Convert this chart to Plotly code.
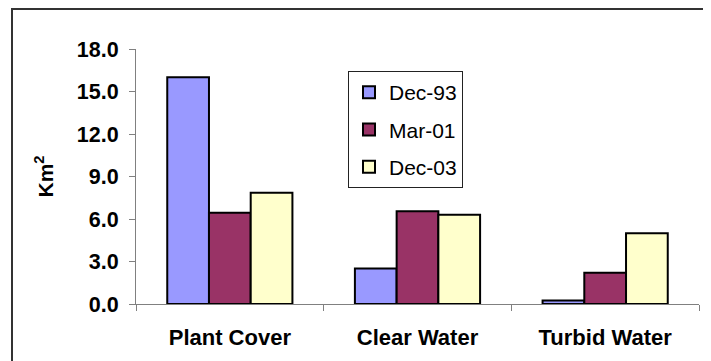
import plotly.graph_objects as go

categories = ["Plant Cover", "Clear Water", "Turbid Water"]
series_names = ["Dec-93", "Mar-01", "Dec-03"]
dec93 = [16.0, 2.5, 0.25]
mar01 = [6.45, 6.55, 2.2]
dec03 = [7.85, 6.3, 5.0]
colors = ["#9999FF", "#993366", "#FFFFCC"]
y_ticks = [0, 3, 6, 9, 12, 15, 18]

FONT = "Liberation Sans, Arial, sans-serif"

# page body has an 8px default margin: the figure is sized to fill the rest of the window
W, H = 703, 353
ML, MR, MT, MB = 128, 12, 41, 57
PW, PH = W - ML - MR, H - MT - MB

fig = go.Figure()
for i, (name, vals) in enumerate(zip(series_names, [dec93, mar01, dec03])):
    fig.add_trace(go.Bar(
        x=categories, y=vals, name=name, legendgroup=name,
        marker=dict(color=colors[i], line=dict(color="#000000", width=2)),
    ))

fig.update_layout(
    width=W, height=H,
    margin=dict(l=ML, r=MR, t=MT, b=MB, autoexpand=False),
    paper_bgcolor="white", plot_bgcolor="white",
    barmode="group", bargap=0.333, bargroupgap=0,
    font=dict(family=FONT, color="black"),
    showlegend=True,
    legend=dict(
        x=(348 - 8 - ML) / PW, y=1 - (71 - 8 - MT) / PH, xanchor="left", yanchor="top",
        bgcolor="white", bordercolor="#222222", borderwidth=1,
        font=dict(size=21, family=FONT, color="black"),
        tracegroupgap=7, itemwidth=30,
    ),
    xaxis=dict(
        showline=True, linecolor="#808080", linewidth=1,
        ticks="outside", ticklen=6, tickcolor="#808080", tickson="boundaries",
        tickfont=dict(size=22, family=FONT, weight="bold", color="black"),
        ticklabelstandoff=14,
        showgrid=False, zeroline=False,
    ),
    yaxis=dict(
        range=[0, 18], tickvals=y_ticks, tickformat=".1f",
        showline=True, linecolor="#808080", linewidth=1,
        ticks="outside", ticklen=6, tickcolor="#808080",
        tickfont=dict(size=21.5, family=FONT, weight="bold", color="black"),
        ticklabelstandoff=6,
        showgrid=False, zeroline=False,
        title=dict(text="Km<sup>2</sup>", standoff=17,
                   font=dict(size=21, family=FONT, weight="bold", color="black")),
    ),
    shapes=[dict(
        type="rect", xref="paper", yref="paper",
        x0=(4 - ML) / PW, x1=1.3, y0=-0.5, y1=1 + (MT - 1) / PH,
        line=dict(color="#333333", width=2), fillcolor="rgba(0,0,0,0)", layer="below",
    )],
)

fig.write_html("out.html")
